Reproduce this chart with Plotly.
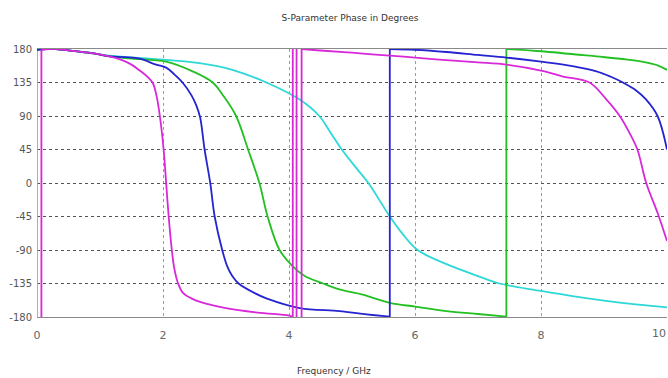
import plotly.graph_objects as go

# ---- data (frequency in GHz, phase in degrees); None separates wrap jumps ----
mag_x = [0.07, 0.07, None,
         0.07, 0.3, 0.6, 0.9, 1.15, 1.35, 1.5, 1.63, 1.75, 1.84, 1.9, 1.95, 2.01, 2.05,
         2.09, 2.14, 2.18, 2.24, 2.32, 2.45, 2.6, 3.0, 3.5, 4.0, 4.05, None,
         4.06, 4.06, None, 4.12, 4.12, None, 4.2, 4.2, None,
         4.2, 4.5, 5.0, 5.6, 6.0, 6.5, 7.0, 7.45, 8.0, 8.35, 8.77, 9.04, 9.25, 9.4, 9.53, 9.67,
         9.85, 10.0]
mag_y = [-180, 179, None,
         179, 180, 177, 174, 170, 165, 159, 151, 143, 134, 116, 90, 45, 0,
         -45, -90, -115, -135, -148, -155, -160, -168, -174, -178, -179.5, None,
         -180, 180, None, 180, -180, None, -180, 180, None,
         180, 178, 175, 171, 168.5, 165, 162, 159, 151, 143, 135, 112, 90, 68, 45, 0,
         -40, -78]

blue_x = [0, 0.3, 0.6, 0.9, 1.15, 1.4, 1.63, 1.89, 2.05, 2.18, 2.31, 2.45, 2.53, 2.59, 2.66, 2.75,
          2.82, 2.94, 3.02, 3.1, 3.2, 3.48, 3.64, 4.17, 4.8, 5.2, 5.6, None,
          5.6, 5.6, None,
          5.6, 6.0, 6.5, 7.0, 7.45, 8.0, 8.5, 8.88, 9.1, 9.3, 9.5, 9.67, 9.85, 10.0]
blue_y = [179, 180, 177, 174, 170, 169, 167, 159, 155, 146, 135, 118, 104, 88, 45, 0,
          -45, -90, -112, -125, -135, -149, -155, -168, -172, -176, -179.5, None,
          -180, 180, None,
          180, 179, 176, 172, 168.5, 163, 157, 150, 143, 135, 125, 112, 90, 45]

green_x = [0, 0.3, 0.6, 0.9, 1.15, 1.5, 2.05, 2.47, 2.79, 2.95, 3.16, 3.35, 3.53, 3.66, 3.85,
           4.06, 4.25, 4.54, 4.8, 5.17, 5.6, 6.0, 6.5, 7.0, 7.45, None,
           7.45, 7.45, None,
           7.45, 8.0, 8.88, 9.35, 9.6, 9.85, 10.0]
green_y = [179, 180, 177, 174, 170, 167, 163, 150, 135, 118, 90, 45, 0, -45, -90,
           -112, -125, -135, -143, -150, -161, -166, -172, -176, -179.5, None,
           -180, 180, None,
           180, 177, 170, 166, 163, 158, 152]

cyan_x = [0, 0, None,
          0, 0.3, 0.6, 0.9, 1.15, 1.79, 2.58, 3.1, 3.64, 4.17, 4.48, 4.65, 4.82, 5.05,
          5.26, 5.6, 5.8, 6.04, 6.5, 7.0, 7.34, 8.0, 8.5, 9.0, 9.5, 10.0]
cyan_y = [-180, 179, None,
          179, 180, 177, 174, 171, 167, 161, 152, 135, 112, 90, 69, 47, 22,
          0, -45, -68, -90, -109, -125, -135, -145, -152, -158, -163, -167]

y_ticks = [180, 135, 90, 45, 0, -45, -90, -135, -180]
y_tick_text = ["180", "135", "90", "45", "0", "-45", "-90", "-135", "-180"]
x_ticks = [0, 2, 4, 6, 8]
x_tick_text = ["0", "2", "4", "6", "8"]
x_last_tick, x_last_text = 10, "10"

series = [
    (cyan_x, cyan_y, "#2ed8d8"),
    (green_x, green_y, "#22c022"),
    (blue_x, blue_y, "#2424d0"),
    (mag_x, mag_y, "#d828d8"),
]

fig = go.Figure()
for xs, ys, col in series:
    fig.add_trace(go.Scatter(x=xs, y=ys, mode="lines", connectgaps=False,
                             line=dict(color=col, width=1.8, shape="spline", smoothing=1.0),
                             showlegend=False))

font_txt = "DejaVu Sans"
fig.update_layout(
    width=668, height=378,
    margin=dict(l=37, r=1, t=49, b=61),
    paper_bgcolor="white", plot_bgcolor="white",
    title=dict(text="S-Parameter Phase in Degrees", x=0.524, xanchor="center",
               y=1 - 18 / 378, yanchor="middle",
               font=dict(family=font_txt, size=9, color="#333333")),
    font=dict(family=font_txt, size=10, color="#555555"),
    annotations=[
        dict(text="Frequency / GHz", xref="paper", yref="paper",
             x=0.472, y=-0.2, xanchor="center", yanchor="middle", showarrow=False,
             font=dict(family=font_txt, size=9, color="#333333")),
        dict(text=x_last_text, xref="x", yref="paper", x=x_last_tick, y=-0.062,
             xanchor="right", yanchor="middle", showarrow=False, xshift=1,
             font=dict(family=font_txt, size=11, color="#666666")),
    ],
)
fig.update_xaxes(range=[0, 10], tickvals=x_ticks + [x_last_tick], ticktext=x_tick_text + [""],
                 showgrid=True, gridcolor="#9a9a9a", griddash="dot", gridwidth=1,
                 showline=True, mirror=True, linecolor="#8a8a8a", linewidth=1,
                 zeroline=False, ticks="", ticklabelstandoff=8,
                 tickfont=dict(size=11, color="#666666"))
fig.update_yaxes(range=[-180, 180], tickvals=y_ticks, ticktext=y_tick_text,
                 showgrid=True, gridcolor="#555555", griddash="dot", gridwidth=1,
                 showline=False, zeroline=False, ticks="", ticklabelstandoff=4,
                 tickfont=dict(size=10, color="#555555"))

fig.write_html("out.html")
